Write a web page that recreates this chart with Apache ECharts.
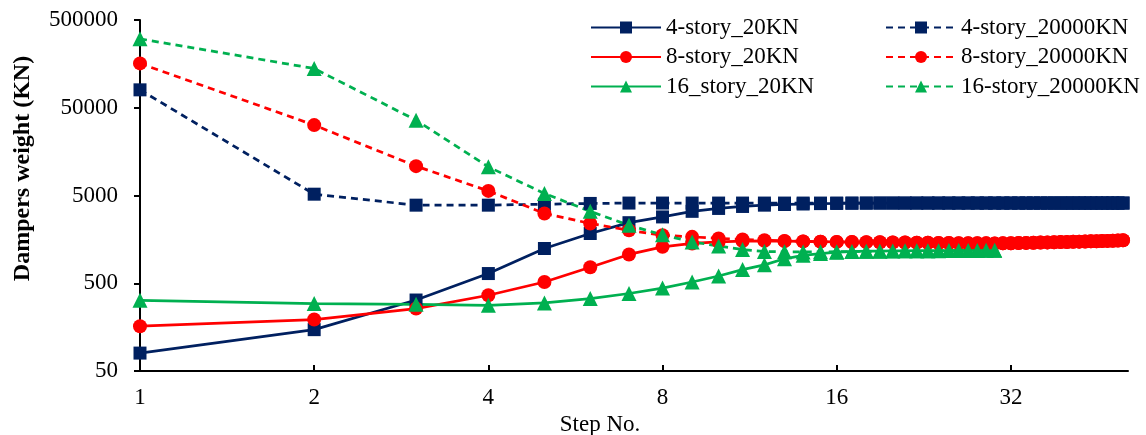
<!DOCTYPE html>
<html>
<head>
<meta charset="utf-8">
<script src="https://cdn.jsdelivr.net/npm/echarts@6/dist/echarts.min.js"></script>
<style>
  html, body { margin: 0; padding: 0; background: #ffffff; }
  #chart { width: 1146px; height: 435px; }
</style>
</head>
<body>
<div id="chart"></div>
<script>
// Optimisation step numbers
var steps = [1, 2, 3, 4, 5, 6, 7, 8, 9, 10, 11, 12, 13, 14, 15, 16, 17, 18, 19, 20,
  21, 22, 23, 24, 25, 26, 27, 28, 29, 30, 31, 32, 33, 34, 35, 36, 37, 38, 39, 40,
  41, 42, 43, 44, 45, 46, 47, 48, 49, 50];

// Dampers weight (KN) per step
var story4_20 = [80, 148, 322, 645, 1245, 1845, 2450, 2850, 3300, 3560, 3750, 3880, 3950, 4000, 4040, 4060, 4080, 4090, 4100, 4100,
  4100, 4100, 4100, 4100, 4100, 4100, 4100, 4100, 4100, 4100, 4100, 4100, 4100, 4100, 4100, 4100, 4100, 4100, 4100, 4100,
  4100, 4100, 4100, 4100, 4100, 4100, 4100, 4100, 4100, 4100];
var story8_20 = [162, 193, 257, 365, 517, 760, 1065, 1300, 1420, 1480, 1510, 1520, 1510, 1500, 1490, 1480, 1475, 1470, 1465, 1460,
  1455, 1450, 1445, 1440, 1435, 1432, 1430, 1427, 1424, 1420, 1425, 1430, 1436, 1442, 1448, 1454, 1460, 1466, 1472, 1478,
  1484, 1490, 1496, 1502, 1508, 1514, 1520, 1528, 1536, 1545];
var story16_20 = [320, 293, 288, 280, 298, 335, 382, 440, 517, 605, 716, 810, 950, 1040, 1090, 1130, 1150, 1160, 1165, 1170,
  1172, 1174, 1176, 1178, 1180, 1182, 1184, 1186, 1188, 1190];
var story4_20000 = [80000, 5175, 3880, 3880, 3980, 4060, 4100, 4100, 4100, 4100, 4100, 4100, 4100, 4100, 4100, 4100, 4100, 4100, 4100, 4100,
  4100, 4100, 4100, 4100, 4100, 4100, 4100, 4100, 4100, 4100, 4100, 4100, 4100, 4100, 4100, 4100, 4100, 4100, 4100, 4100,
  4100, 4100, 4100, 4100, 4100, 4100, 4100, 4100, 4100, 4100];
var story8_20000 = [160000, 31700, 10800, 5640, 3120, 2400, 2010, 1760, 1690, 1620, 1575, 1550, 1520, 1500, 1490, 1480, 1475, 1470, 1465, 1460,
  1455, 1450, 1445, 1440, 1435, 1432, 1430, 1427, 1424, 1420, 1425, 1430, 1436, 1442, 1448, 1454, 1460, 1466, 1472, 1478,
  1484, 1490, 1496, 1502, 1508, 1514, 1520, 1528, 1536, 1545];
var story16_20000 = [305000, 140000, 36100, 10600, 5270, 3300, 2290, 1780, 1480, 1330, 1210, 1150, 1140, 1135, 1140, 1145, 1150, 1155, 1160, 1165,
  1170, 1172, 1174, 1176, 1178, 1180, 1182, 1184, 1186, 1190];

var xTicks = [1, 2, 4, 8, 16, 32];
var yTicks = [50, 500, 5000, 50000, 500000];

var NAVY = '#002060', RED = '#ff0000', GREEN = '#00b050';
var FONT = '"Liberation Serif", "Times New Roman", serif';

function pairs(values) {
  return values.map(function (v, i) { return [steps[i], v]; });
}

function makeSeries(name, values, color, symbol, size, dashed) {
  return {
    name: name,
    type: 'line',
    data: pairs(values),
    symbol: symbol,
    symbolSize: size,
    showSymbol: true,
    color: color,
    itemStyle: { color: color },
    lineStyle: { color: color, width: 2.75, type: dashed ? [7, 5] : 'solid' },
    emphasis: { disabled: true },
    animation: false
  };
}

var chart = echarts.init(document.getElementById('chart'), null, { renderer: 'canvas' });

var legendText = { fontFamily: FONT, fontSize: 23, color: '#000' };

chart.setOption({
  backgroundColor: '#ffffff',
  animation: false,
  grid: { left: 140, right: 18, top: 20, bottom: 64, containLabel: false, outerBoundsMode: 'none' },
  legend: [
    {
      orient: 'vertical', left: 590, top: 16, padding: 0,
      itemWidth: 70, itemHeight: 15, itemGap: 6.5,
      textStyle: legendText,
      data: ['4-story_20KN', '8-story_20KN', '16_story_20KN']
    },
    {
      orient: 'vertical', left: 885, top: 16, padding: 0,
      itemWidth: 70, itemHeight: 15, itemGap: 6.5,
      textStyle: legendText,
      data: ['4-story_20000KN', '8-story_20000KN', '16-story_20000KN']
    }
  ],
  xAxis: {
    type: 'log', logBase: 2, min: 1, max: 51,
    name: 'Step No.', nameLocation: 'middle', nameGap: 38,
    nameTextStyle: { fontFamily: FONT, fontSize: 23, color: '#000', padding: [0, 68, 0, 0] },
    axisLine: { show: true, lineStyle: { color: '#000', width: 2 } },
    axisTick: { show: true, inside: true, length: 6, lineStyle: { color: '#000', width: 2 }, customValues: xTicks },
    axisLabel: {
      fontFamily: FONT, fontSize: 23, color: '#000', margin: 15,
      customValues: xTicks,
      formatter: function (v) { return String(Math.round(v)); }
    },
    splitLine: { show: false },
    minorTick: { show: false }
  },
  yAxis: {
    type: 'log', logBase: 10, min: 50, max: 500000,
    name: 'Dampers weight (KN)', nameLocation: 'middle', nameGap: 105,
    nameTextStyle: { fontFamily: FONT, fontSize: 24, fontWeight: 'bold', color: '#000', padding: [0, 0, 0, 54] },
    axisLine: { show: true, lineStyle: { color: '#000', width: 2 } },
    axisTick: { show: true, inside: false, length: 6, lineStyle: { color: '#000', width: 2 }, customValues: yTicks },
    axisLabel: {
      fontFamily: FONT, fontSize: 23, color: '#000', margin: 22,
      customValues: yTicks,
      formatter: function (v) { return String(Math.round(v)); }
    },
    splitLine: { show: false },
    minorTick: { show: false }
  },
  series: [
    makeSeries('4-story_20KN', story4_20, NAVY, 'rect', 13, false),
    makeSeries('8-story_20KN', story8_20, RED, 'circle', 14, false),
    makeSeries('16_story_20KN', story16_20, GREEN, 'triangle', 15, false),
    makeSeries('4-story_20000KN', story4_20000, NAVY, 'rect', 13, true),
    makeSeries('8-story_20000KN', story8_20000, RED, 'circle', 14, true),
    makeSeries('16-story_20000KN', story16_20000, GREEN, 'triangle', 15, true)
  ]
});
</script>
</body>
</html>
